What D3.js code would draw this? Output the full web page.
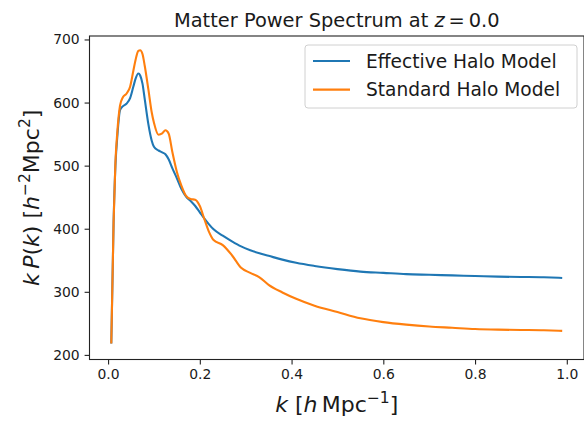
<!DOCTYPE html>
<html lang="en">
<head>
    <meta charset="UTF-8">
    <title>Matter Power Spectrum</title>
    <script src="https://d3js.org/d3.v7.min.js"></script>
    <style>
        body { margin: 0; background: #fff; }
        text { font-family: "DejaVu Sans", sans-serif; fill: #1a1a1a; }
        .tick text { font-size: 13.9px; }
    </style>
</head>
<body>
    <div id="chart"></div>
    <script>
        // wavenumber k in h/Mpc
        const kValues = [0.007, 0.012, 0.016, 0.02, 0.026, 0.032, 0.04, 0.048, 0.055, 0.06,
            0.066, 0.07, 0.075, 0.08, 0.088, 0.095, 0.1, 0.11, 0.118, 0.125,
            0.132, 0.14, 0.15, 0.16, 0.17, 0.18, 0.19, 0.2, 0.21, 0.22,
            0.23, 0.25, 0.27, 0.29, 0.31, 0.33, 0.35, 0.38, 0.41, 0.45,
            0.5, 0.55, 0.6, 0.65, 0.7, 0.75, 0.8, 0.85, 0.9, 0.95, 0.99];

        const effectiveHalo = [218, 410, 500, 545, 588, 594, 598, 607, 625, 638,
            646, 643, 630, 605, 565, 540, 530, 524, 521, 518,
            510, 496, 480, 463, 451, 444, 436, 426, 416, 407,
            399, 389, 380, 372, 366, 361, 357, 351, 346, 341,
            336, 332, 330, 328, 327, 326, 325, 324, 323.5, 323, 322];

        const standardHalo = [218, 410, 505, 552, 595, 608, 614, 625, 650, 668,
            682, 683, 677, 658, 620, 585, 568, 549, 551, 556,
            551, 522, 490, 468, 452, 447, 446, 436, 415, 395,
            382, 374, 358, 338, 330, 323, 311, 299, 289, 278,
            268, 258, 252, 248, 245, 243, 241, 240, 239.5, 239, 238];

        const seriesNames = ["Effective Halo Model", "Standard Halo Model"];
        const seriesColors = ["#1f77b4", "#ff7f0e"];
        const xTicks = [0, 0.2, 0.4, 0.6, 0.8, 1.0];
        const yTicks = [200, 300, 400, 500, 600, 700];

        const W = 584, H = 421;
        const plot = { left: 89.5, right: 584, top: 36, bottom: 359.5 };

        const svg = d3.select("#chart").append("svg")
            .attr("width", W)
            .attr("height", H);

        const x = d3.scaleLinear().domain([-0.0405, 1.0375]).range([plot.left, plot.right]);
        const y = d3.scaleLinear().domain([192.7, 705.5]).range([plot.bottom, plot.top]);

        // axes
        const xAxis = svg.append("g")
            .attr("transform", `translate(0,${plot.bottom})`)
            .call(d3.axisBottom(x).tickValues(xTicks).tickFormat(d3.format(".1f")).tickSizeOuter(0).tickSize(4.9).tickPadding(4.9));
        const yAxis = svg.append("g")
            .attr("transform", `translate(${plot.left},0)`)
            .call(d3.axisLeft(y).tickValues(yTicks).tickFormat(d3.format("d")).tickSizeOuter(0).tickSize(4.9).tickPadding(4.9));
        [xAxis, yAxis].forEach(g => {
            g.select(".domain").remove();
            g.selectAll(".tick line").attr("stroke", "#222").attr("stroke-width", 1.1);
        });

        // frame
        svg.append("rect")
            .attr("x", plot.left).attr("y", plot.top)
            .attr("width", plot.right - plot.left).attr("height", plot.bottom - plot.top)
            .attr("fill", "none").attr("stroke", "#222").attr("stroke-width", 1.1);

        // lines
        const line = d3.line()
            .x(d => x(d[0]))
            .y(d => y(d[1]))
            .curve(d3.curveMonotoneX);

        [effectiveHalo, standardHalo].forEach((vals, i) => {
            svg.append("path")
                .datum(kValues.map((k, j) => [k, vals[j]]))
                .attr("fill", "none")
                .attr("stroke", seriesColors[i])
                .attr("stroke-width", 2.1)
                .attr("d", line);
        });

        // title
        const title = svg.append("text")
            .attr("x", (plot.left + plot.right) / 2)
            .attr("y", 27)
            .attr("text-anchor", "middle")
            .attr("font-size", 19.4);
        title.append("tspan").text("Matter Power Spectrum at ");
        title.append("tspan").attr("font-style", "italic").text("z");
        title.append("tspan").text("\u2009=\u20090.0");

        // x label
        const xl = svg.append("text")
            .attr("x", (plot.left + plot.right) / 2)
            .attr("y", 412)
            .attr("text-anchor", "middle")
            .attr("font-size", 22);
        xl.append("tspan").attr("font-style", "italic").text("k");
        xl.append("tspan").text(" [");
        xl.append("tspan").attr("font-style", "italic").text("h");
        xl.append("tspan").text("\u2009Mpc");
        xl.append("tspan").attr("font-size", 15.5).attr("dy", -9).text("\u22121");
        xl.append("tspan").attr("dy", 9).text("]");

        // y label
        const yl = svg.append("text")
            .attr("transform", `translate(39,${(plot.top + plot.bottom) / 2}) rotate(-90)`)
            .attr("text-anchor", "middle")
            .attr("font-size", 22);
        yl.append("tspan").attr("font-style", "italic").text("k\u2009P");
        yl.append("tspan").text("(");
        yl.append("tspan").attr("font-style", "italic").text("k");
        yl.append("tspan").text(") [");
        yl.append("tspan").attr("font-style", "italic").text("h");
        yl.append("tspan").attr("font-size", 15.5).attr("dy", -9).text("\u22122");
        yl.append("tspan").attr("dy", 9).text("Mpc");
        yl.append("tspan").attr("font-size", 15.5).attr("dy", -9).text("2");
        yl.append("tspan").attr("dy", 9).text("]");

        // legend
        const lg = svg.append("g").attr("transform", "translate(305,45)");
        lg.append("rect")
            .attr("width", 272).attr("height", 63)
            .attr("rx", 3)
            .attr("fill", "#fff").attr("fill-opacity", 0.8)
            .attr("stroke", "#d0d0d0");
        seriesNames.forEach((name, i) => {
            const cy = 16 + i * 28.6;
            lg.append("line")
                .attr("x1", 8).attr("x2", 45)
                .attr("y1", cy).attr("y2", cy)
                .attr("stroke", seriesColors[i]).attr("stroke-width", 2.1);
            lg.append("text")
                .attr("x", 61).attr("y", cy + 6.5)
                .attr("font-size", 18.6)
                .text(name);
        });
    </script>
</body>
</html>
